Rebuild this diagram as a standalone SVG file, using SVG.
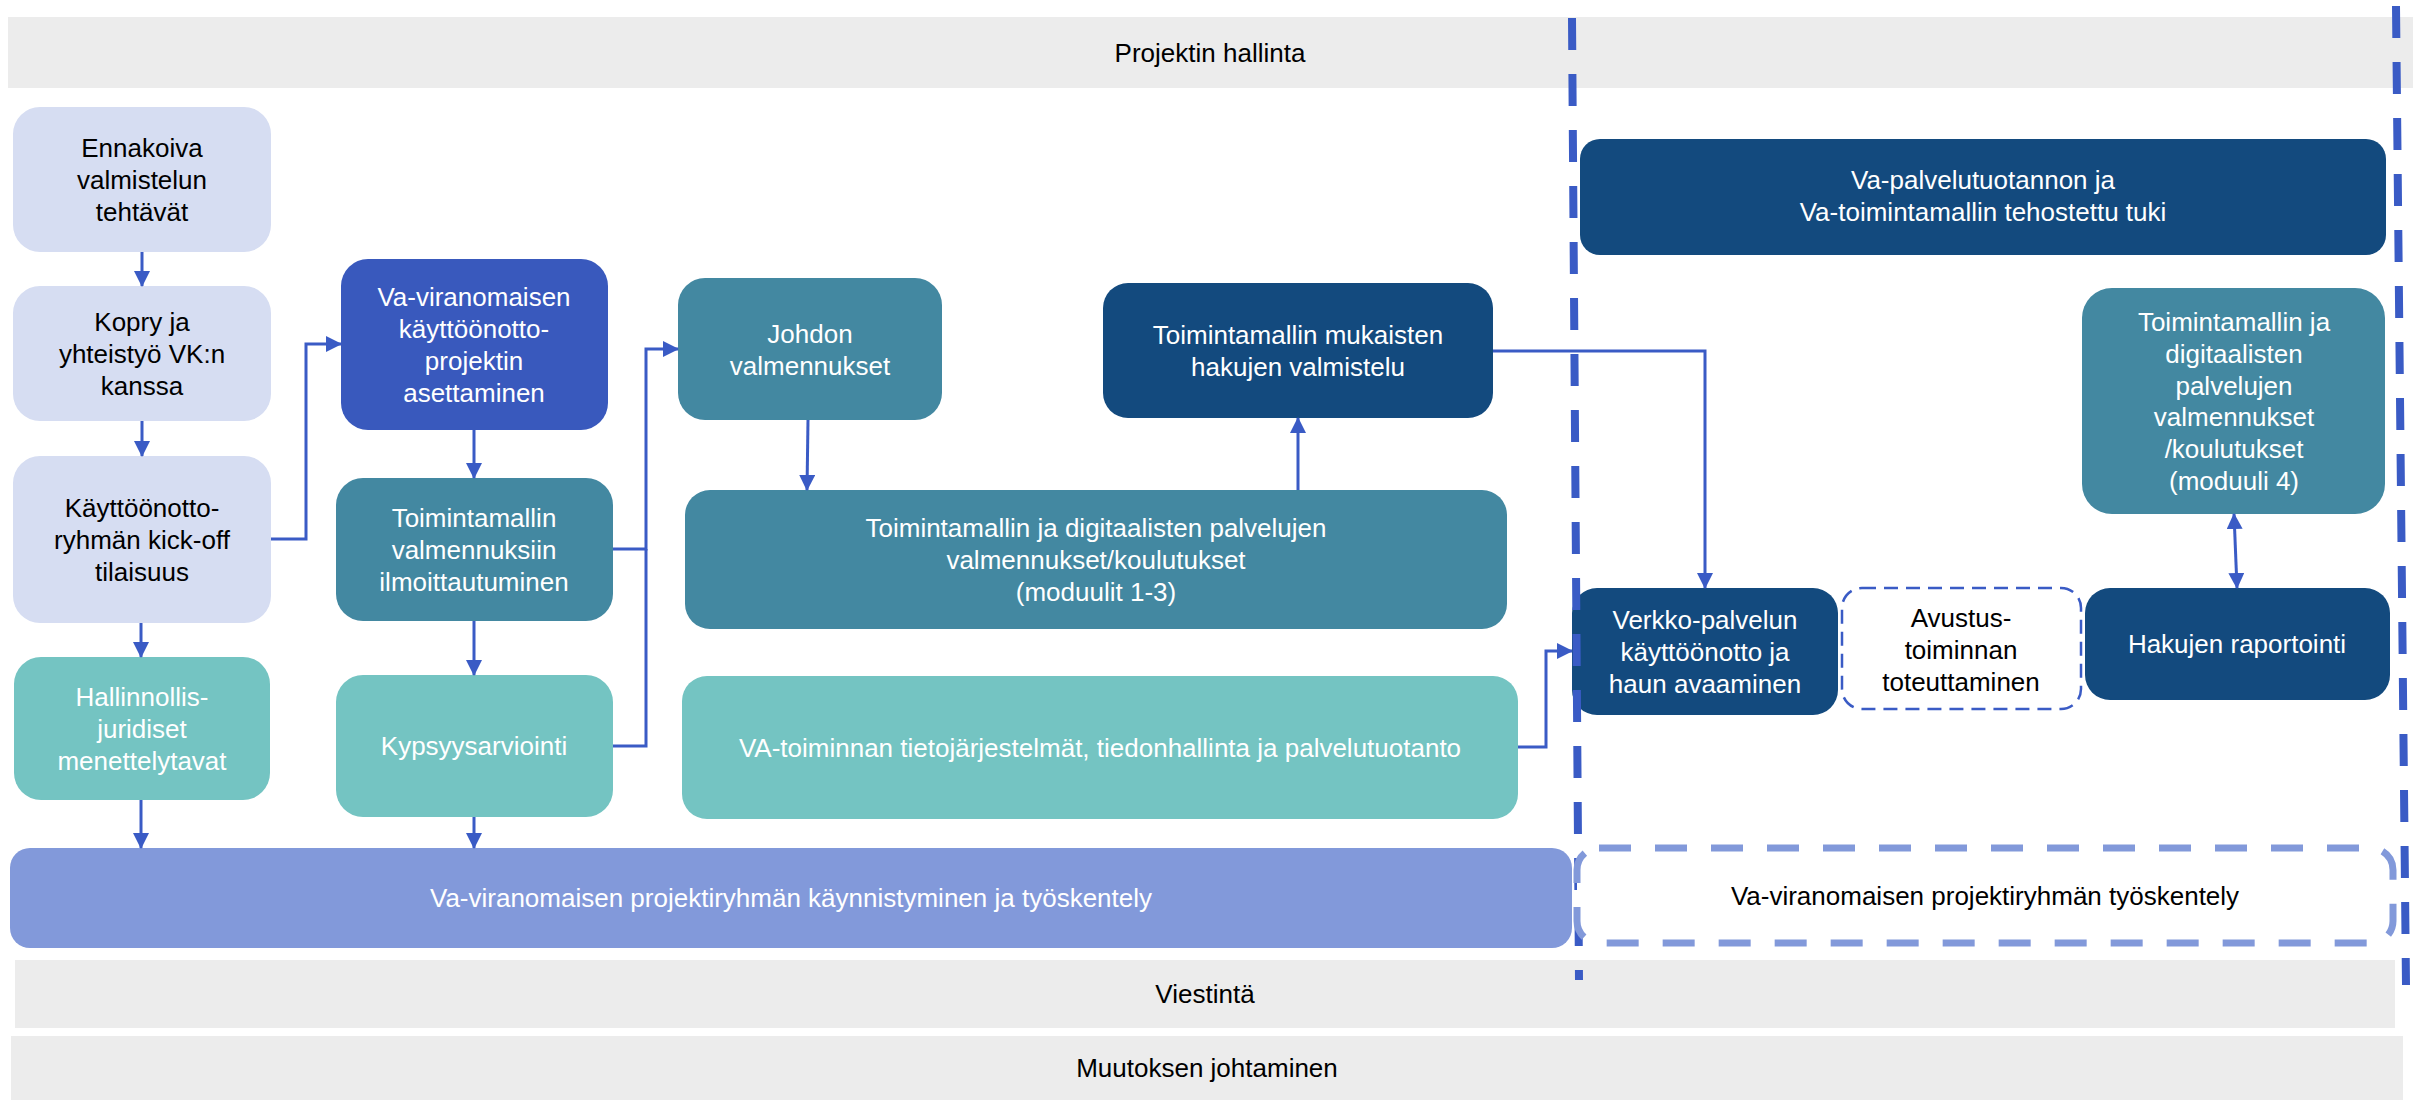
<svg xmlns="http://www.w3.org/2000/svg" width="2417" height="1100" viewBox="0 0 2417 1100">
<defs>
<style>
text{font-family:"Liberation Sans",Arial,sans-serif;font-size:26px;text-anchor:middle;}
.w{fill:#ffffff;}
.k{fill:#000000;}
.band{fill:#ececec;}
.lav{fill:#d6ddf2;}
.teal{fill:#4388a1;}
.lteal{fill:#74c4c2;}
.navy{fill:#134a7e;}
.royal{fill:#3959bd;}
.purple{fill:#8299da;}
.con{fill:none;stroke:#3a5bc5;stroke-width:3;}
.vdash{fill:none;stroke:#3a5bc5;stroke-width:8;stroke-dasharray:32 24;}
</style>
<marker id="ah" viewBox="0 0 16 16" refX="15" refY="8" markerWidth="16" markerHeight="16" markerUnits="userSpaceOnUse" orient="auto-start-reverse">
<path d="M0,0 L16,8 L0,16 Z" fill="#3a5bc5"/>
</marker>
</defs>

<g id="band-projektin-hallinta">
<rect class="band" x="8" y="17" width="2405" height="71"/>
<text class="k" x="1210" y="62">Projektin hallinta</text>
</g>
<g id="band-viestinta">
<rect class="band" x="15" y="960" width="2380" height="68"/>
<text class="k" x="1205" y="1003">Viestintä</text>
</g>
<g id="band-muutoksen-johtaminen">
<rect class="band" x="11" y="1036" width="2392" height="64"/>
<text class="k" x="1207" y="1077">Muutoksen johtaminen</text>
</g>

<g id="node-ennakoiva">
<rect class="lav" x="13" y="107" width="258" height="145" rx="27"/>
<text class="k"><tspan x="142" y="157">Ennakoiva</tspan><tspan x="142" y="189">valmistelun</tspan><tspan x="142" y="221">tehtävät</tspan></text>
</g>
<g id="node-kopry">
<rect class="lav" x="13" y="286" width="258" height="135" rx="27"/>
<text class="k"><tspan x="142" y="331">Kopry ja</tspan><tspan x="142" y="363">yhteistyö VK:n</tspan><tspan x="142" y="395">kanssa</tspan></text>
</g>
<g id="node-kickoff">
<rect class="lav" x="13" y="456" width="258" height="167" rx="27"/>
<text class="k"><tspan x="142" y="517">Käyttöönotto-</tspan><tspan x="142" y="549">ryhmän kick-off</tspan><tspan x="142" y="581">tilaisuus</tspan></text>
</g>
<g id="node-hallinnollis">
<rect class="lteal" x="14" y="657" width="256" height="143" rx="27"/>
<text class="w"><tspan x="142" y="706">Hallinnollis-</tspan><tspan x="142" y="738">juridiset</tspan><tspan x="142" y="770">menettelytavat</tspan></text>
</g>
<g id="node-va-kayttoonotto">
<rect class="royal" x="341" y="259" width="267" height="171" rx="27"/>
<text class="w"><tspan x="474" y="306">Va-viranomaisen</tspan><tspan x="474" y="338">käyttöönotto-</tspan><tspan x="474" y="370">projektin</tspan><tspan x="474" y="402">asettaminen</tspan></text>
</g>
<g id="node-ilmoittautuminen">
<rect class="teal" x="336" y="478" width="277" height="143" rx="27"/>
<text class="w"><tspan x="474" y="527">Toimintamallin</tspan><tspan x="474" y="559">valmennuksiin</tspan><tspan x="474" y="591">ilmoittautuminen</tspan></text>
</g>
<g id="node-kypsyys">
<rect class="lteal" x="336" y="675" width="277" height="142" rx="27"/>
<text class="w" x="474" y="755">Kypsyysarviointi</text>
</g>
<g id="node-johdon">
<rect class="teal" x="678" y="278" width="264" height="142" rx="27"/>
<text class="w"><tspan x="810" y="343">Johdon</tspan><tspan x="810" y="375">valmennukset</tspan></text>
</g>
<g id="node-mukaisten">
<rect class="navy" x="1103" y="283" width="390" height="135" rx="25"/>
<text class="w"><tspan x="1298" y="344">Toimintamallin mukaisten</tspan><tspan x="1298" y="376">hakujen valmistelu</tspan></text>
</g>
<g id="node-moduulit-1-3">
<rect class="teal" x="685" y="490" width="822" height="139" rx="25"/>
<text class="w"><tspan x="1096" y="537">Toimintamallin ja digitaalisten palvelujen</tspan><tspan x="1096" y="569">valmennukset/koulutukset</tspan><tspan x="1096" y="601">(moduulit 1-3)</tspan></text>
</g>
<g id="node-va-toiminnan">
<rect class="lteal" x="682" y="676" width="836" height="143" rx="25"/>
<text class="w" x="1100" y="757">VA-toiminnan tietojärjestelmät, tiedonhallinta ja palvelutuotanto</text>
</g>
<g id="node-kaynnistyminen">
<rect class="purple" x="10" y="848" width="1562" height="100" rx="20"/>
<text class="w" x="791" y="907">Va-viranomaisen projektiryhmän käynnistyminen ja työskentely</text>
</g>
<g id="node-va-palvelutuotannon">
<rect class="navy" x="1580" y="139" width="806" height="116" rx="20"/>
<text class="w"><tspan x="1983" y="189">Va-palvelutuotannon ja</tspan><tspan x="1983" y="221">Va-toimintamallin tehostettu tuki</tspan></text>
</g>
<g id="node-moduuli-4">
<rect class="teal" x="2082" y="288" width="303" height="226" rx="30"/>
<text class="w"><tspan x="2234" y="331">Toimintamallin ja</tspan><tspan x="2234" y="363">digitaalisten</tspan><tspan x="2234" y="395">palvelujen</tspan><tspan x="2234" y="426">valmennukset</tspan><tspan x="2234" y="458">/koulutukset</tspan><tspan x="2234" y="490">(moduuli 4)</tspan></text>
</g>
<g id="node-verkko">
<rect class="navy" x="1572" y="588" width="266" height="127" rx="25"/>
<text class="w"><tspan x="1705" y="629">Verkko-palvelun</tspan><tspan x="1705" y="661">käyttöönotto ja</tspan><tspan x="1705" y="693">haun avaaminen</tspan></text>
</g>
<g id="node-avustus">
<rect x="1842" y="588" width="239" height="121" rx="20" fill="#ffffff" stroke="#3a5bc5" stroke-width="2.5" stroke-dasharray="14 8"/>
<text class="k"><tspan x="1961" y="627">Avustus-</tspan><tspan x="1961" y="659">toiminnan</tspan><tspan x="1961" y="691">toteuttaminen</tspan></text>
</g>
<g id="node-hakujen-raportointi">
<rect class="navy" x="2085" y="588" width="305" height="112" rx="25"/>
<text class="w" x="2237" y="653">Hakujen raportointi</text>
</g>

<g id="dividers">
<line class="vdash" x1="1572" y1="18" x2="1579" y2="980"/>
<line class="vdash" x1="2396" y1="6" x2="2406" y2="985"/>
</g>

<g id="node-tyoskentely">
<rect x="1577" y="848" width="816" height="95" rx="22" fill="#ffffff" stroke="#8299da" stroke-width="7" stroke-dasharray="32 24"/>
<text class="k" x="1985" y="905">Va-viranomaisen projektiryhmän työskentely</text>
</g>

<g id="connectors">
<path class="con" d="M142,252 V286" marker-end="url(#ah)"/>
<path class="con" d="M142,421 V456" marker-end="url(#ah)"/>
<path class="con" d="M141,623 V657" marker-end="url(#ah)"/>
<path class="con" d="M141,800 V848" marker-end="url(#ah)"/>
<path class="con" d="M271,539 H306 V344 H341" marker-end="url(#ah)"/>
<path class="con" d="M474,430 V478" marker-end="url(#ah)"/>
<path class="con" d="M474,621 V675" marker-end="url(#ah)"/>
<path class="con" d="M474,817 V848" marker-end="url(#ah)"/>
<path class="con" d="M613,549 H646 V349 H678" marker-end="url(#ah)"/>
<path class="con" d="M613,746 H646 V549"/>
<path class="con" d="M808,420 L807,490" marker-end="url(#ah)"/>
<path class="con" d="M1298,490 V418" marker-end="url(#ah)"/>
<path class="con" d="M1493,351 H1705 V588" stroke-width="2.5" marker-end="url(#ah)"/>
<path class="con" d="M1518,747 H1546 V651 H1572" marker-end="url(#ah)"/>
<path class="con" d="M2234,514 L2237,588" marker-start="url(#ah)" marker-end="url(#ah)"/>
</g>
</svg>
